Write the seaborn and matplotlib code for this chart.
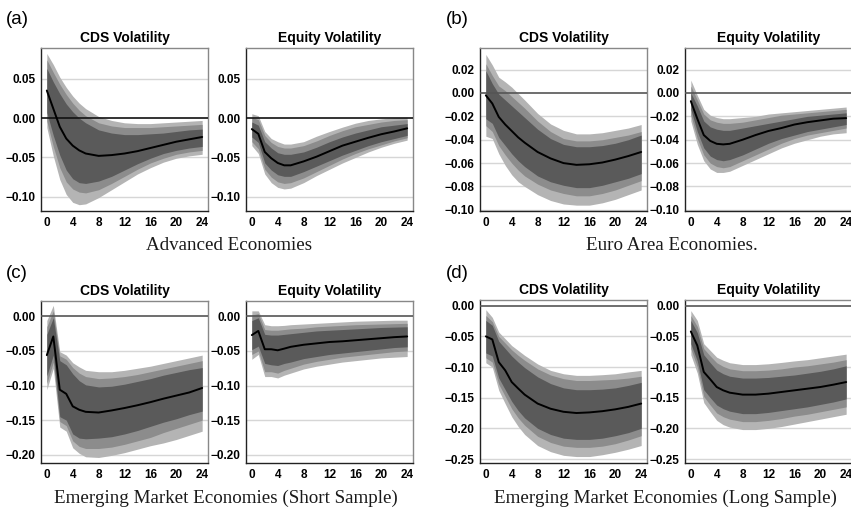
import matplotlib
matplotlib.use('Agg')
import matplotlib.pyplot as plt
import seaborn as sns
from matplotlib.ticker import FuncFormatter

# ---------------- data ----------------
H = [0, 1, 2, 3, 4, 5, 6, 8, 10, 12, 14, 16, 18, 20, 22, 24]
x_ticks = [0, 4, 8, 12, 16, 20, 24]

# (a) Advanced Economies - CDS
a_cds_med = [0.035, 0.012, -0.011, -0.026, -0.035, -0.041, -0.045, -0.048, -0.047, -0.045, -0.042, -0.038, -0.034, -0.030, -0.027, -0.024]
a_cds_lhi = [0.082, 0.068, 0.052, 0.039, 0.028, 0.019, 0.012, 0.002, -0.003, -0.006, -0.007, -0.007, -0.006, -0.005, -0.004, -0.003]
a_cds_mhi = [0.074, 0.058, 0.043, 0.030, 0.019, 0.010, 0.003, -0.006, -0.010, -0.012, -0.012, -0.012, -0.011, -0.010, -0.009, -0.008]
a_cds_dhi = [0.063, 0.046, 0.031, 0.018, 0.008, 0.000, -0.006, -0.015, -0.019, -0.021, -0.021, -0.020, -0.019, -0.017, -0.015, -0.014]
a_cds_dlo = [0.007, -0.022, -0.047, -0.066, -0.077, -0.082, -0.083, -0.080, -0.074, -0.066, -0.058, -0.051, -0.045, -0.041, -0.038, -0.036]
a_cds_mlo = [-0.004, -0.036, -0.063, -0.081, -0.090, -0.094, -0.095, -0.091, -0.083, -0.074, -0.065, -0.057, -0.051, -0.046, -0.043, -0.041]
a_cds_llo = [-0.012, -0.048, -0.078, -0.097, -0.107, -0.110, -0.109, -0.101, -0.091, -0.081, -0.071, -0.063, -0.056, -0.051, -0.048, -0.046]
# (a) Advanced Economies - Equity
a_eq_med = [-0.014, -0.020, -0.043, -0.051, -0.057, -0.060, -0.060, -0.055, -0.049, -0.042, -0.035, -0.030, -0.025, -0.0205, -0.017, -0.013]
a_eq_lhi = [0.0055, 0.003, -0.017, -0.026, -0.030, -0.033, -0.033, -0.030, -0.023, -0.017, -0.0115, -0.0065, -0.003, -0.001, 0.0005, 0.001]
a_eq_mhi = [0.001, -0.002, -0.022, -0.031, -0.036, -0.038, -0.038, -0.035, -0.029, -0.022, -0.016, -0.011, -0.008, -0.005, -0.003, -0.002]
a_eq_dhi = [-0.005, -0.009, -0.030, -0.038, -0.044, -0.046, -0.046, -0.043, -0.037, -0.030, -0.024, -0.019, -0.015, -0.011, -0.009, -0.007]
a_eq_dlo = [-0.024, -0.031, -0.057, -0.066, -0.072, -0.074, -0.074, -0.068, -0.061, -0.054, -0.047, -0.041, -0.035, -0.030, -0.026, -0.022]
a_eq_mlo = [-0.030, -0.039, -0.065, -0.075, -0.081, -0.083, -0.082, -0.076, -0.068, -0.060, -0.052, -0.045, -0.039, -0.034, -0.029, -0.025]
a_eq_llo = [-0.035, -0.045, -0.071, -0.082, -0.088, -0.090, -0.089, -0.082, -0.073, -0.065, -0.057, -0.050, -0.043, -0.037, -0.032, -0.028]

# (b) Euro Area - CDS
b_cds_med = [-0.002, -0.009, -0.0205, -0.027, -0.0325, -0.038, -0.0425, -0.0505, -0.056, -0.060, -0.0615, -0.061, -0.0595, -0.057, -0.054, -0.0505]
b_cds_lhi = [0.033, 0.024, 0.0135, 0.0095, 0.005, -0.0005, -0.006, -0.0175, -0.0265, -0.032, -0.035, -0.035, -0.034, -0.032, -0.030, -0.027]
b_cds_mhi = [0.025, 0.015, 0.006, 0.002, -0.003, -0.008, -0.013, -0.024, -0.033, -0.039, -0.041, -0.041, -0.040, -0.038, -0.036, -0.033]
b_cds_dhi = [0.019, 0.008, -0.001, -0.006, -0.011, -0.016, -0.021, -0.031, -0.039, -0.044, -0.046, -0.046, -0.045, -0.043, -0.040, -0.036]
b_cds_dlo = [-0.022, -0.026, -0.038, -0.045, -0.052, -0.058, -0.063, -0.071, -0.076, -0.079, -0.081, -0.081, -0.079, -0.076, -0.073, -0.069]
b_cds_mlo = [-0.028, -0.033, -0.045, -0.053, -0.060, -0.066, -0.071, -0.078, -0.083, -0.086, -0.088, -0.088, -0.086, -0.083, -0.079, -0.075]
b_cds_llo = [-0.037, -0.039, -0.052, -0.062, -0.070, -0.076, -0.080, -0.087, -0.092, -0.095, -0.096, -0.096, -0.094, -0.091, -0.087, -0.083]
# (b) Euro Area - Equity
b_eq_med = [-0.007, -0.022, -0.036, -0.041, -0.0435, -0.044, -0.0435, -0.040, -0.036, -0.0325, -0.030, -0.027, -0.025, -0.0235, -0.022, -0.0215]
b_eq_lhi = [0.011, -0.002, -0.014, -0.019, -0.021, -0.022, -0.022, -0.021, -0.020, -0.018, -0.017, -0.016, -0.015, -0.014, -0.013, -0.012]
b_eq_mhi = [0.006, -0.006, -0.018, -0.023, -0.025, -0.026, -0.026, -0.025, -0.023, -0.021, -0.019, -0.018, -0.017, -0.016, -0.015, -0.014]
b_eq_dhi = [0.000, -0.011, -0.024, -0.029, -0.031, -0.032, -0.032, -0.030, -0.028, -0.026, -0.024, -0.022, -0.020, -0.019, -0.018, -0.017]
b_eq_dlo = [-0.014, -0.033, -0.047, -0.054, -0.057, -0.058, -0.057, -0.053, -0.048, -0.043, -0.039, -0.036, -0.033, -0.031, -0.029, -0.027]
b_eq_mlo = [-0.019, -0.039, -0.053, -0.060, -0.063, -0.064, -0.063, -0.058, -0.053, -0.048, -0.043, -0.039, -0.036, -0.034, -0.032, -0.030]
b_eq_llo = [-0.024, -0.044, -0.058, -0.065, -0.068, -0.068, -0.067, -0.062, -0.057, -0.052, -0.047, -0.043, -0.040, -0.037, -0.035, -0.034]

# (c) Emerging Markets (Short Sample) - CDS
c_cds_med = [-0.056, -0.029, -0.106, -0.112, -0.130, -0.135, -0.138, -0.139, -0.136, -0.1325, -0.1285, -0.124, -0.119, -0.1145, -0.110, -0.1035]
c_cds_lhi = [-0.006, 0.016, -0.051, -0.056, -0.067, -0.073, -0.078, -0.080, -0.080, -0.078, -0.075, -0.072, -0.068, -0.064, -0.060, -0.056]
c_cds_mhi = [-0.015, 0.008, -0.057, -0.062, -0.074, -0.082, -0.087, -0.090, -0.089, -0.087, -0.084, -0.080, -0.076, -0.072, -0.068, -0.064]
c_cds_dhi = [-0.026, -0.002, -0.064, -0.070, -0.083, -0.093, -0.099, -0.102, -0.101, -0.098, -0.094, -0.090, -0.085, -0.081, -0.077, -0.074]
c_cds_dlo = [-0.086, -0.056, -0.145, -0.150, -0.170, -0.176, -0.177, -0.176, -0.174, -0.170, -0.165, -0.159, -0.153, -0.148, -0.142, -0.137]
c_cds_mlo = [-0.097, -0.066, -0.152, -0.158, -0.180, -0.188, -0.191, -0.191, -0.189, -0.185, -0.180, -0.175, -0.168, -0.162, -0.156, -0.150]
c_cds_llo = [-0.106, -0.075, -0.160, -0.166, -0.190, -0.198, -0.203, -0.204, -0.201, -0.197, -0.192, -0.187, -0.183, -0.178, -0.172, -0.166]
# (c) Emerging Markets (Short Sample) - Equity
c_eq_med = [-0.027, -0.021, -0.0475, -0.0475, -0.049, -0.0466, -0.044, -0.041, -0.039, -0.037, -0.036, -0.0345, -0.033, -0.0315, -0.030, -0.029]
c_eq_lhi = [0.008, 0.008, -0.012, -0.0135, -0.0135, -0.013, -0.012, -0.011, -0.010, -0.009, -0.008, -0.007, -0.0065, -0.006, -0.0055, -0.0055]
c_eq_mhi = [0.002, 0.004, -0.019, -0.020, -0.020, -0.019, -0.018, -0.017, -0.015, -0.014, -0.013, -0.012, -0.0115, -0.011, -0.0105, -0.010]
c_eq_dhi = [-0.006, -0.002, -0.026, -0.027, -0.027, -0.026, -0.025, -0.023, -0.021, -0.020, -0.019, -0.018, -0.017, -0.016, -0.0155, -0.015]
c_eq_dlo = [-0.048, -0.043, -0.068, -0.070, -0.071, -0.068, -0.066, -0.061, -0.058, -0.055, -0.053, -0.051, -0.049, -0.047, -0.045, -0.044]
c_eq_mlo = [-0.055, -0.050, -0.080, -0.080, -0.082, -0.078, -0.075, -0.069, -0.065, -0.062, -0.059, -0.057, -0.055, -0.053, -0.051, -0.050]
c_eq_llo = [-0.062, -0.055, -0.087, -0.087, -0.089, -0.085, -0.082, -0.076, -0.072, -0.069, -0.066, -0.064, -0.062, -0.060, -0.059, -0.058]

# (d) Emerging Markets (Long Sample) - CDS
d_cds_med = [-0.050, -0.055, -0.092, -0.1055, -0.1245, -0.135, -0.145, -0.1596, -0.168, -0.173, -0.175, -0.174, -0.172, -0.169, -0.165, -0.1596]
d_cds_lhi = [-0.0065, -0.019, -0.043, -0.054, -0.065, -0.073, -0.081, -0.095, -0.1055, -0.111, -0.1136, -0.1136, -0.1125, -0.111, -0.108, -0.1055]
d_cds_mhi = [-0.016, -0.026, -0.050, -0.061, -0.072, -0.081, -0.089, -0.103, -0.113, -0.119, -0.122, -0.122, -0.121, -0.120, -0.118, -0.115]
d_cds_dhi = [-0.024, -0.032, -0.058, -0.070, -0.082, -0.092, -0.101, -0.116, -0.127, -0.134, -0.137, -0.137, -0.136, -0.134, -0.130, -0.125]
d_cds_dlo = [-0.077, -0.082, -0.118, -0.137, -0.156, -0.171, -0.183, -0.200, -0.210, -0.216, -0.218, -0.218, -0.216, -0.212, -0.207, -0.200]
d_cds_mlo = [-0.085, -0.092, -0.128, -0.148, -0.168, -0.183, -0.195, -0.213, -0.223, -0.229, -0.231, -0.231, -0.229, -0.225, -0.219, -0.212]
d_cds_llo = [-0.093, -0.100, -0.138, -0.160, -0.181, -0.197, -0.210, -0.228, -0.238, -0.244, -0.246, -0.246, -0.243, -0.239, -0.234, -0.228]
# (d) Emerging Markets (Long Sample) - Equity
d_eq_med = [-0.042, -0.065, -0.108, -0.120, -0.1326, -0.138, -0.1418, -0.145, -0.145, -0.1434, -0.1407, -0.138, -0.1353, -0.1326, -0.1288, -0.1245]
d_eq_lhi = [-0.008, -0.024, -0.062, -0.073, -0.084, -0.089, -0.093, -0.096, -0.096, -0.0947, -0.0925, -0.090, -0.088, -0.085, -0.082, -0.079]
d_eq_mhi = [-0.016, -0.034, -0.070, -0.082, -0.093, -0.099, -0.103, -0.106, -0.106, -0.105, -0.103, -0.100, -0.098, -0.095, -0.092, -0.088]
d_eq_dhi = [-0.024, -0.044, -0.080, -0.093, -0.105, -0.111, -0.115, -0.118, -0.118, -0.117, -0.115, -0.113, -0.110, -0.107, -0.103, -0.098]
d_eq_dlo = [-0.062, -0.090, -0.137, -0.150, -0.162, -0.168, -0.172, -0.176, -0.176, -0.174, -0.171, -0.168, -0.165, -0.161, -0.157, -0.152]
d_eq_mlo = [-0.070, -0.100, -0.148, -0.162, -0.175, -0.181, -0.185, -0.189, -0.189, -0.187, -0.184, -0.180, -0.177, -0.173, -0.169, -0.165]
d_eq_llo = [-0.080, -0.110, -0.158, -0.173, -0.187, -0.194, -0.198, -0.202, -0.202, -0.200, -0.197, -0.193, -0.189, -0.185, -0.181, -0.177]

a_yticks = [-0.10, -0.05, 0.00, 0.05]
b_yticks = [-0.10, -0.08, -0.06, -0.04, -0.02, 0.00, 0.02]
c_yticks = [-0.20, -0.15, -0.10, -0.05, 0.00]
d_yticks = [-0.25, -0.20, -0.15, -0.10, -0.05, 0.00]

panel_labels = ['(a)', '(b)', '(c)', '(d)']
captions = ['Advanced Economies', 'Euro Area Economies.',
            'Emerging Market Economies (Short Sample)',
            'Emerging Market Economies (Long Sample)']
sub_titles = ['CDS Volatility', 'Equity Volatility']

# ---------------- style ----------------
sns.set_theme(style='white')
plt.rcParams['font.family'] = ['Liberation Sans', 'DejaVu Sans']
plt.rcParams['text.color'] = 'black'

DARK, MED, LIGHT = '#5a5a5a', '#8c8c8c', '#b4b4b4'
W, HP = 851, 508
fig = plt.figure(figsize=(8.51, 5.08), dpi=100)
fig.patch.set_facecolor('white')


def rect(x0, x1, y0, y1):
    return [x0 / W, 1 - y1 / HP, (x1 - x0) / W, (y1 - y0) / HP]


fmt = FuncFormatter(lambda v, p: ('%.2f' % v).replace('-', '\u2212'))


def draw(ax, series, yticks, ylim, title, zero_col):
    med, lhi, mhi, dhi, dlo, mlo, llo = series
    for yt in yticks:
        if abs(yt) > 1e-9:
            ax.axhline(yt, color='#d6d6d6', lw=1.0, zorder=0)
    ax.fill_between(H, llo, lhi, color=LIGHT, lw=0, zorder=1)
    ax.fill_between(H, mlo, mhi, color=MED, lw=0, zorder=2)
    ax.fill_between(H, dlo, dhi, color=DARK, lw=0, zorder=3)
    ax.axhline(0, color=zero_col, lw=1.2, zorder=4)
    sns.lineplot(x=H, y=med, ax=ax, color='black', lw=1.4, zorder=5)
    ax.set_xlim(-0.9, 24.9)
    ax.set_ylim(*ylim)
    ax.set_xticks(x_ticks)
    ax.set_yticks(yticks)
    ax.yaxis.set_major_formatter(fmt)
    ax.tick_params(axis='x', length=2.5, width=0.8, pad=2, labelsize=8.5,
                   color='black', labelcolor='black')
    ax.tick_params(axis='y', length=0, pad=4, labelsize=8.5, labelcolor='black')
    for lab in ax.get_xticklabels() + ax.get_yticklabels():
        lab.set_fontweight('bold')
    ax.spines['left'].set_color('#222222')
    ax.spines['bottom'].set_color('#222222')
    ax.spines['top'].set_color('#888888')
    ax.spines['right'].set_color('#888888')
    for s in ax.spines.values():
        s.set_linewidth(1.0)
    ax.set_title(title, fontsize=10, fontweight='bold', pad=4, color='black')
    ax.set_xlabel('')
    ax.set_ylabel('')


panels = [
    dict(xs=[(41, 208), (246, 413)], ys=(48, 211),
         data=[[a_cds_med, a_cds_lhi, a_cds_mhi, a_cds_dhi, a_cds_dlo, a_cds_mlo, a_cds_llo],
               [a_eq_med, a_eq_lhi, a_eq_mhi, a_eq_dhi, a_eq_dlo, a_eq_mlo, a_eq_llo]],
         yticks=a_yticks, ylim=(-0.118, 0.089), zero='#111111',
         lab=(6, 20), cap=(229, 244)),
    dict(xs=[(480, 647), (685, 852)], ys=(48, 211),
         data=[[b_cds_med, b_cds_lhi, b_cds_mhi, b_cds_dhi, b_cds_dlo, b_cds_mlo, b_cds_llo],
               [b_eq_med, b_eq_lhi, b_eq_mhi, b_eq_dhi, b_eq_dlo, b_eq_mlo, b_eq_llo]],
         yticks=b_yticks, ylim=(-0.101, 0.0385), zero='#555555',
         lab=(446, 20), cap=(672, 244)),
    dict(xs=[(41, 208), (246, 413)], ys=(300.5, 463),
         data=[[c_cds_med, c_cds_lhi, c_cds_mhi, c_cds_dhi, c_cds_dlo, c_cds_mlo, c_cds_llo],
               [c_eq_med, c_eq_lhi, c_eq_mhi, c_eq_dhi, c_eq_dlo, c_eq_mlo, c_eq_llo]],
         yticks=c_yticks, ylim=(-0.212, 0.023), zero='#555555',
         lab=(6, 273), cap=(226, 497)),
    dict(xs=[(480, 647), (685, 852)], ys=(300, 463),
         data=[[d_cds_med, d_cds_lhi, d_cds_mhi, d_cds_dhi, d_cds_dlo, d_cds_mlo, d_cds_llo],
               [d_eq_med, d_eq_lhi, d_eq_mhi, d_eq_dhi, d_eq_dlo, d_eq_mlo, d_eq_llo]],
         yticks=d_yticks, ylim=(-0.2565, 0.0093), zero='#555555',
         lab=(446, 273), cap=(665, 497)),
]

for i, p in enumerate(panels):
    for j in range(2):
        x0, x1 = p['xs'][j]
        ax = fig.add_axes(rect(x0, x1, p['ys'][0], p['ys'][1]))
        draw(ax, p['data'][j], p['yticks'], p['ylim'], sub_titles[j], p['zero'])
    fig.text(p['lab'][0] / W, 1 - p['lab'][1] / HP, panel_labels[i],
             fontsize=13.5, ha='left', va='center', color='black')
    fig.text(p['cap'][0] / W, 1 - (p['cap'][1] + 1.5) / HP, captions[i],
             family=['Liberation Serif', 'DejaVu Serif'], fontsize=13.7,
             ha='center', va='center', color='#1a1a1a')

fig.savefig('out.png', dpi=100, facecolor='white')
